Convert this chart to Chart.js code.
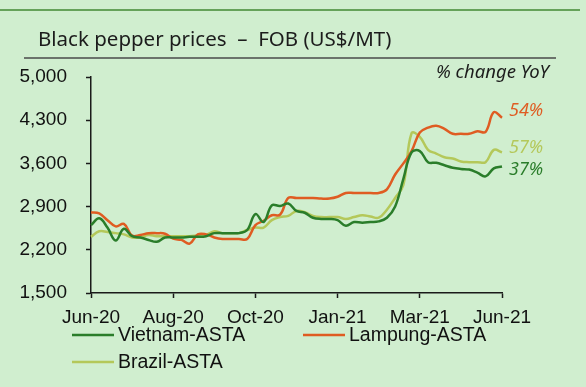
<!DOCTYPE html>
<html>
<head>
<meta charset="utf-8">
<script src="https://cdn.jsdelivr.net/npm/chart.js@4.4.1/dist/chart.umd.min.js"></script>
<style>
  html, body { margin: 0; padding: 0; background: #d0eecf; }
  #wrap { width: 586px; height: 387px; position: relative; }
</style>
</head>
<body>
<div id="wrap"><canvas id="pepperChart" width="586" height="387"></canvas></div>
<script>
// weekly points, Jun-20 .. Jun-21, one tick label every 10 weeks
const tickLabels = ['Jun-20', 'Aug-20', 'Oct-20', 'Jan-21', 'Mar-21', 'Jun-21'];
const weeks = [];
for (let i = 0; i <= 50; i++) weeks.push(i % 10 === 0 ? tickLabels[i / 10] : '');

const vietnam = [2600, 2710, 2560, 2350, 2540, 2420, 2400, 2360, 2330, 2400,
                 2400, 2400, 2410, 2410, 2420, 2470, 2470, 2470, 2470, 2520,
                 2780, 2650, 2920, 2910, 2950, 2830, 2800, 2720, 2700, 2700,
                 2680, 2590, 2650, 2640, 2650, 2660, 2720, 2900, 3350, 3780,
                 3800, 3620, 3610, 3570, 3530, 3510, 3500, 3450, 3390, 3520, 3550];

const lampung = [2810, 2790, 2680, 2580, 2620, 2430, 2440, 2470, 2470, 2460,
                 2380, 2360, 2300, 2450, 2450, 2400, 2375, 2375, 2375, 2375,
                 2600, 2670, 2760, 2770, 3040, 3040, 3040, 3040, 3030, 3030,
                 3060, 3120, 3120, 3120, 3120, 3120, 3180, 3420, 3600, 3800,
                 4100, 4180, 4210, 4160, 4080, 4080, 4080, 4120, 4110, 4430, 4340];

const brazil = [2410, 2500, 2490, 2470, 2450, 2400, 2400, 2440, 2420, 2420,
                2420, 2420, 2420, 2430, 2440, 2500, 2470, 2470, 2470, 2520,
                2560, 2560, 2680, 2730, 2750, 2830, 2810, 2750, 2730, 2730,
                2730, 2700, 2730, 2760, 2740, 2720, 2850, 3040, 3250, 4090,
                4030, 3820, 3760, 3700, 3680, 3630, 3620, 3620, 3620, 3820, 3780];

const seriesNames = ['Vietnam-ASTA', 'Lampung-ASTA', 'Brazil-ASTA'];
const seriesColors = ['#2a7d2a', '#df5c22', '#b4c85a'];
const yoyLabels = ['37%', '54%', '57%'];

const axisFont = { family: '"Liberation Sans", Arial, sans-serif', size: 19 };

// titles, end labels and legend drawn around the plot
const decorations = {
    id: 'decorations',
    beforeDraw(chart) {
        const c = chart.ctx;
        c.save();
        c.fillStyle = '#d0eecf';
        c.fillRect(0, 0, chart.width, chart.height);
        c.restore();
    },
    afterDraw(chart) {
        const c = chart.ctx;
        const y = chart.scales.y;
        c.save();

        // top rule
        c.strokeStyle = '#65a25a';
        c.lineWidth = 2;
        c.beginPath(); c.moveTo(0, 10); c.lineTo(580, 10); c.stroke();

        // title + underline
        c.fillStyle = '#1c1c1c';
        c.font = '20.5px "Noto Sans", sans-serif';
        c.textBaseline = 'middle';
        c.textAlign = 'left';
        c.fillText('Black pepper prices  \u2013  FOB (US$/MT)', 38, 40);
        c.strokeStyle = '#4a4a4a';
        c.lineWidth = 1.5;
        c.beginPath(); c.moveTo(24, 58); c.lineTo(556, 58); c.stroke();

        c.font = 'italic 18.5px "Noto Sans", sans-serif';
        c.textAlign = 'right';
        c.fillText('% change YoY', 549, 73);

        // end-of-line YoY labels
        const last = [vietnam[50], lampung[50], brazil[50]];
        const nudge = [3, -7, -4];
        c.font = 'italic 18px "Noto Sans", sans-serif';
        c.textAlign = 'left';
        for (let i = 0; i < 3; i++) {
            c.fillStyle = seriesColors[i];
            c.fillText(yoyLabels[i], 509, y.getPixelForValue(last[i]) + nudge[i]);
        }

        // legend
        const items = [
            { x: 72, y: 335 },
            { x: 303, y: 335 },
            { x: 72, y: 362 }
        ];
        c.font = '19.5px "Liberation Sans", Arial, sans-serif';
        c.lineWidth = 2.5;
        items.forEach((it, i) => {
            c.strokeStyle = seriesColors[i];
            c.beginPath(); c.moveTo(it.x, it.y); c.lineTo(it.x + 42, it.y); c.stroke();
            c.fillStyle = '#111';
            c.fillText(seriesNames[i], it.x + 46, it.y + 1);
        });
        c.restore();
    }
};

const ctx = document.getElementById('pepperChart');
new Chart(ctx, {
    type: 'line',
    data: {
        labels: weeks,
        datasets: [
            { label: seriesNames[0], data: vietnam, borderColor: seriesColors[0] },
            { label: seriesNames[1], data: lampung, borderColor: seriesColors[1] },
            { label: seriesNames[2], data: brazil, borderColor: seriesColors[2] }
        ]
    },
    options: {
        responsive: false,
        animation: false,
        devicePixelRatio: 1,
        layout: { padding: { top: 77, right: 84, left: 0, bottom: 0 } },
        elements: {
            line: { borderWidth: 2.5, tension: 0.4, fill: false },
            point: { radius: 0 }
        },
        plugins: {
            legend: { display: false },
            tooltip: { enabled: false }
        },
        scales: {
            x: {
                offset: false,
                afterFit: s => { s.height = 94; },
                border: { color: '#1a1a1a', width: 1.5 },
                grid: { drawOnChartArea: false, tickLength: 5, tickColor: '#1a1a1a', tickWidth: 1.5 },
                ticks: {
                    autoSkip: false, maxRotation: 0, padding: 8,
                    color: '#111', font: axisFont,
                    callback: function (v, i) { return i % 10 === 0 ? this.getLabelForValue(v) : null; }
                }
            },
            y: {
                min: 1500, max: 5000,
                afterFit: s => { s.width = 91; },
                border: { color: '#1a1a1a', width: 1.5 },
                grid: { drawOnChartArea: false, tickLength: 5, tickColor: '#1a1a1a', tickWidth: 1.5 },
                ticks: {
                    stepSize: 700, padding: 19,
                    color: '#111', font: axisFont,
                    callback: v => v.toLocaleString('en-US')
                }
            }
        }
    },
    plugins: [decorations]
});
</script>
</body>
</html>
